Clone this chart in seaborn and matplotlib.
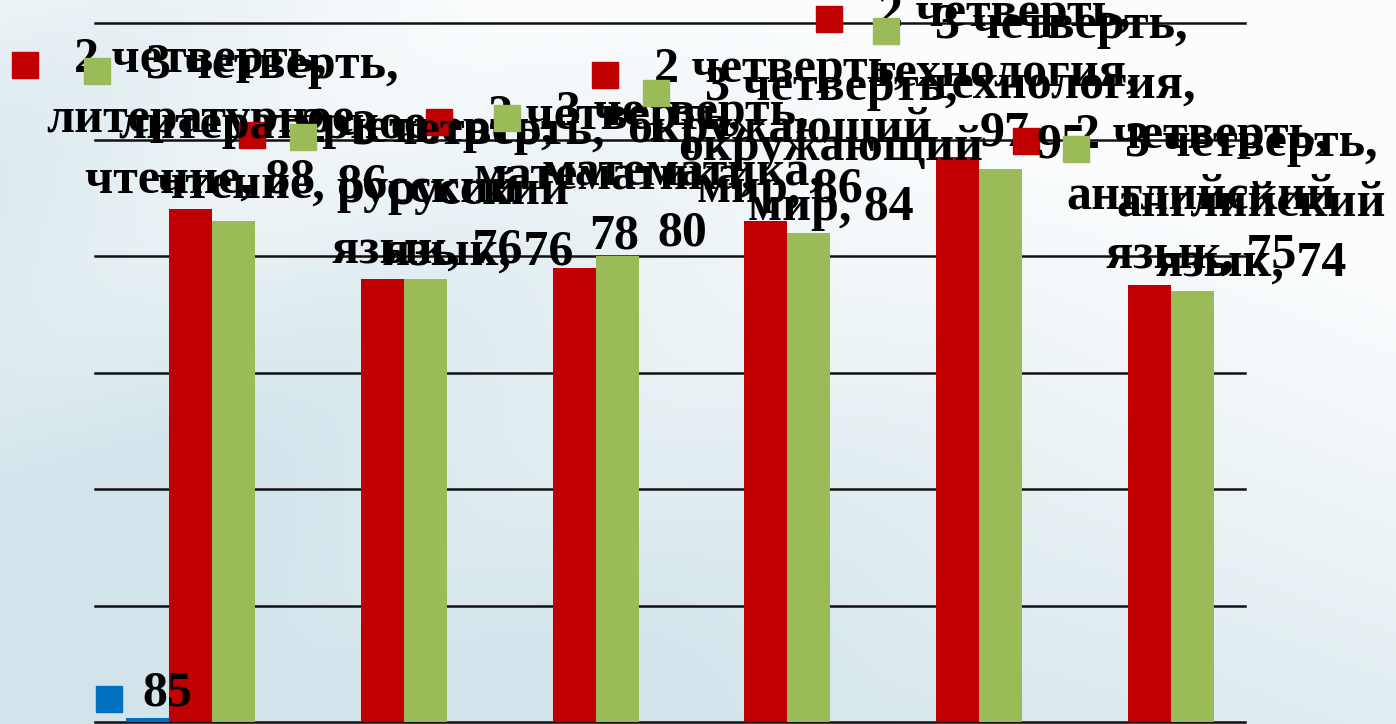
import numpy as np
import pandas as pd
import matplotlib
matplotlib.use("Agg")
import matplotlib.pyplot as plt
from matplotlib.patches import Rectangle
from matplotlib.transforms import IdentityTransform
import seaborn as sns

# data
subjects = ["литературное чтение", "русский язык", "математика",
            "окружающий мир", "технология", "английский язык"]
quarters = ["1 четверть", "2 четверть", "3 четверть"]
q1_values = [0.7, np.nan, np.nan, np.nan, np.nan, np.nan]
q1_label = "85"
q2_values = [88, 76, 78, 86, 97, 75]
q3_values = [86, 76, 80, 84, 95, 74]
colors = ["#0070C0", "#C00000", "#9BBB59"]

# label nudges (px), from the picture
q2_dx = [9, 45, 40, 14, 47, 52]
q2_dy = [6, 6, 8, 8, 0, 6]
q3_dx = [38, 53, 65, 22, 61, 59]
q3_dy = [12, 4, 0, 2, 0, 4]

W, H = 1396, 724
fig = plt.figure(figsize=(W / 100, H / 100), dpi=100)

# background
bg = fig.add_axes([0, 0, 1, 1], zorder=-5)
yy, xx = np.mgrid[0:1:200j, 0:1:400j]
f = yy * 1.0 - xx * 0.75 + 0.35
f += 0.15 * np.sin((xx * 1.4 + yy) * 9.0) * np.clip(1.2 - xx * 1.5, 0, 1)
f = np.clip(f, 0, 1)
light = np.array([250, 252, 253]) / 255
blue = np.array([210, 228, 234]) / 255
img = light[None, None, :] * (1 - f[..., None]) + blue[None, None, :] * f[..., None]
bg.imshow(img, aspect="auto", extent=[0, 1, 0, 1], origin="upper")
bg.axis("off")

ax = fig.add_axes([95 / W, 2 / H, 1150 / W, 699 / H])
ax.set_facecolor("none")

df = pd.DataFrame({
    "subject": subjects * 3,
    "quarter": [q for q in quarters for _ in subjects],
    "value": q1_values + q2_values + q3_values,
})

sns.barplot(data=df, x="subject", y="value", hue="quarter",
            order=subjects, hue_order=quarters, palette=colors,
            saturation=1, width=0.673, legend=False, ax=ax, zorder=2)

ax.set_ylim(0, 120)
ax.set_xlim(-0.5, 5.5)
for v in range(0, 121, 20):
    ax.axhline(v, color="#111111", lw=1.8, zorder=1, clip_on=False)
ax.set_xticks([])
ax.set_yticks([])
ax.set_xlabel("")
ax.set_ylabel("")
for s in ax.spines.values():
    s.set_visible(False)

font = dict(family="Liberation Serif", weight="bold", size=36)


def label_lines(quarter, subject, value):
    words = subject.split()
    if len(words) > 1:
        return [quarter + ",", words[0], " ".join(words[1:]) + ", " + str(value)]
    return [quarter + ",", subject + ",", str(value)]


def real_bars(container):
    return [b for b in container if not np.isnan(b.get_height())]


labels = []
for qi, vals, dxs, dys in [(1, q2_values, q2_dx, q2_dy), (2, q3_values, q3_dx, q3_dy)]:
    bars = real_bars(ax.containers[qi])
    for b, v, subj, dx, dy in zip(bars, vals, subjects, dxs, dys):
        lines = label_lines(quarters[qi], subj, v)
        t = ax.annotate("\n".join(lines), (b.get_x() + b.get_width() / 2, b.get_height()),
                        xytext=(dx * 0.72, dy * 0.72), textcoords="offset points",
                        ha="center", va="bottom", multialignment="center",
                        linespacing=1.4, zorder=5 + qi, annotation_clip=False, **font)
        labels.append((t, lines[0], colors[qi], 5 + qi, 36))

# blue series label
b = real_bars(ax.containers[0])[0]
t = ax.annotate(q1_label, (b.get_x() + b.get_width() / 2, b.get_height()),
                xytext=(19 * 0.72, 1), textcoords="offset points", ha="center", va="bottom",
                zorder=5, annotation_clip=False, **font)
labels.append((t, q1_label, colors[0], 5, 20))

# legend keys in front of each label
fig.canvas.draw()
r = fig.canvas.get_renderer()
for t, first, col, z, gap in labels:
    bb = t.get_window_extent(r)
    tmp = ax.text(0, 0, first, **font)
    w1 = tmp.get_window_extent(r).width
    tmp.remove()
    x0 = (bb.x0 + bb.x1) / 2 - w1 / 2 - gap - 26
    yc = bb.y1 - 28
    ax.add_patch(Rectangle((x0, yc - 13), 26, 26, transform=IdentityTransform(),
                           color=col, clip_on=False, zorder=z))

fig.savefig("out.png", dpi=100)
